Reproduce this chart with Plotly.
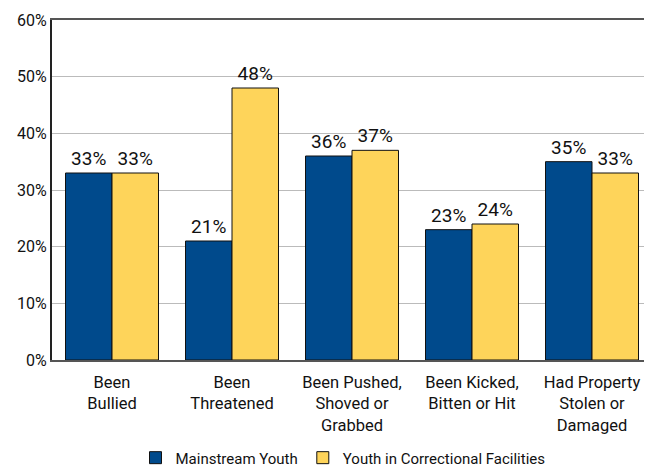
import plotly.graph_objects as go

categories = ["Been<br>Bullied", "Been<br>Threatened", "Been Pushed,<br>Shoved or<br>Grabbed",
              "Been Kicked,<br>Bitten or Hit", "Had Property<br>Stolen or<br>Damaged"]
mainstream = [33, 21, 36, 23, 35]
correctional = [33, 48, 37, 24, 33]
y_ticks = [0, 10, 20, 30, 40, 50, 60]
y_tick_labels = [f"{v}%" for v in y_ticks]

FONT = "Roboto, sans-serif"

fig = go.Figure()
fig.add_trace(go.Bar(
    x=categories, y=mainstream, name="Mainstream Youth",
    marker=dict(color="#004a8c", line=dict(color="#111111", width=1)),
    text=[f"{v}%" for v in mainstream], textposition="outside",
    textfont=dict(size=19, color="#111111", family=FONT), cliponaxis=False,
))
fig.add_trace(go.Bar(
    x=categories, y=correctional, name="Youth in Correctional Facilities",
    marker=dict(color="#fed45a", line=dict(color="#111111", width=1)),
    text=[f"{v}%" for v in correctional], textposition="outside",
    textfont=dict(size=19, color="#111111", family=FONT), cliponaxis=False,
))

# page body has an 8px default margin, so the figure is sized to fill the rest of the window
fig.update_layout(
    width=644, height=461,
    margin=dict(l=44, r=0, t=12, b=109, autoexpand=False),
    paper_bgcolor="white", plot_bgcolor="white",
    barmode="group", bargap=0.225, bargroupgap=0,
    font=dict(family=FONT, size=15, color="#111111"),
    showlegend=True,
    legend=dict(orientation="h", x=0.485, xanchor="center", y=-0.288, yanchor="middle",
                font=dict(size=15), traceorder="normal", itemwidth=30),
)
fig.update_xaxes(
    showline=True, linecolor="#555555", linewidth=2, mirror=True,
    showgrid=False, ticks="", tickfont=dict(size=16.5), automargin=False,
    ticklabelstandoff=6,
)
fig.update_yaxes(
    range=[0, 60], tickvals=y_ticks, ticktext=y_tick_labels,
    showgrid=True, gridcolor="#bbbbbb", gridwidth=1,
    showline=True, linecolor="#222222", linewidth=2,
    tickfont=dict(size=16, color="#111111"), ticks="", zeroline=False, automargin=False,
)

fig.write_html("out.html")
